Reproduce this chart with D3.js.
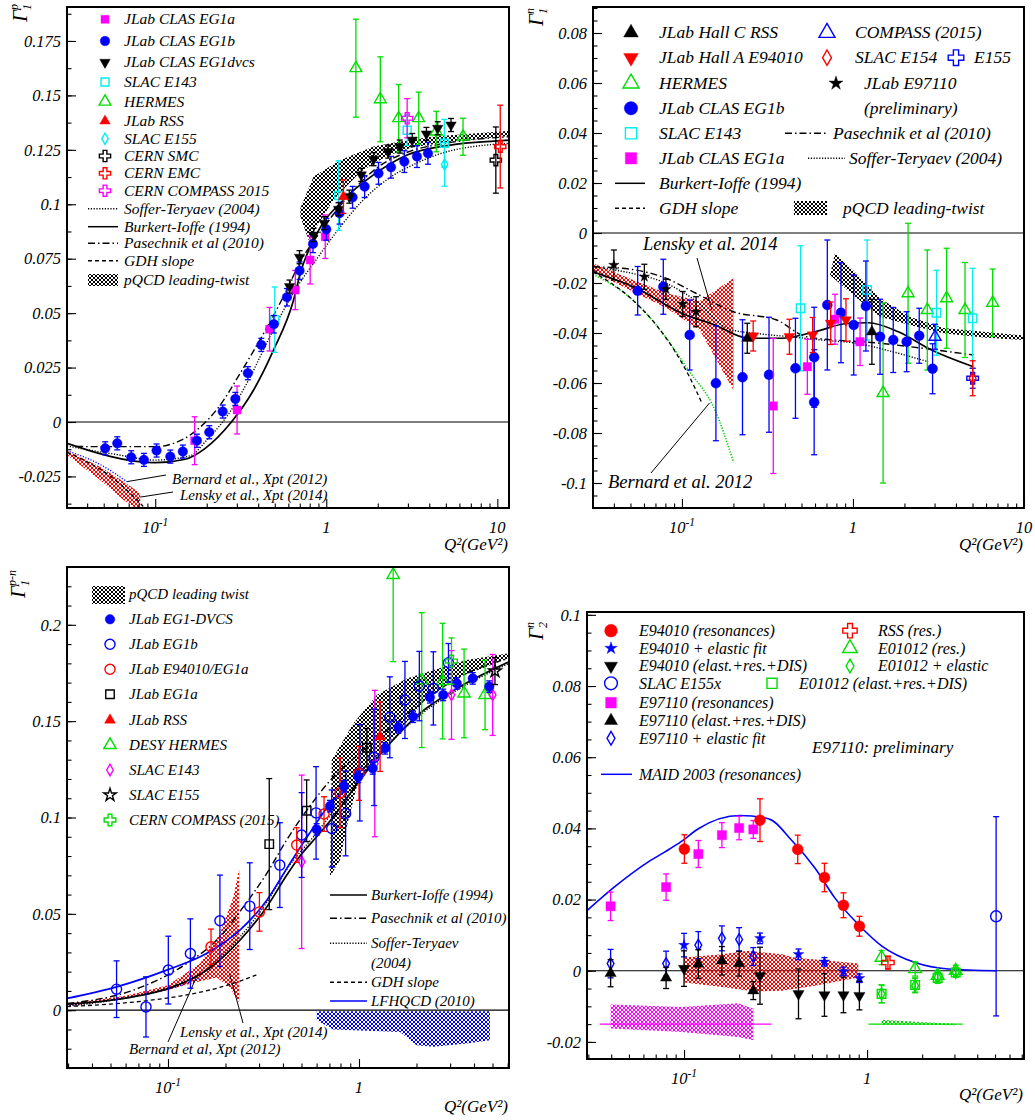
<!DOCTYPE html>
<html>
<head>
<meta charset="utf-8">
<script src="https://cdn.jsdelivr.net/npm/d3@7"></script>
<style>
  body { margin: 0; background: #fff; }
  text { font-family: "Liberation Serif", "Times New Roman", serif; font-style: italic; }
</style>
</head>
<body>
<svg id="fig" width="1035" height="1120"></svg>
<script>
const FONT = '"Liberation Serif","Times New Roman",serif';

// ---------------- panel 1 : Gamma_1 proton  [Q2, value, error] ----------------
const p1Eg1a = [[0.170,-0.0086,0.011],[0.301,0.0055,0.011],[0.466,0.0426,0.010],[0.659,0.0606,0.009],[0.805,0.0744,0.011],[0.986,0.0851,0.010]];
const p1Eg1b = [[0.051,-0.0121,0.003],[0.060,-0.0098,0.003],[0.0724,-0.0162,0.003],[0.0859,-0.0174,0.003],[0.1018,-0.0131,0.003],
  [0.1225,-0.0159,0.003],[0.145,-0.0136,0.003],[0.1753,-0.0086,0.003],[0.207,-0.0047,0.003],[0.248,0.0048,0.003],[0.294,0.0106,0.003],
  [0.348,0.0224,0.003],[0.417,0.0354,0.003],[0.494,0.0449,0.004],[0.589,0.0573,0.004],[0.698,0.0695,0.004],[0.836,0.0818,0.004],
  [1.0,0.0885,0.005],[1.196,0.0959,0.005],[1.425,0.1032,0.005],[1.676,0.1081,0.005],[2.02,0.1142,0.005],[2.39,0.117,0.005],
  [2.86,0.1196,0.005],[3.39,0.1219,0.005],[3.93,0.1234,0.005]];
const p1Eg1dvcs = [[0.61,0.0622,0.003],[0.698,0.0757,0.003],[0.843,0.0859,0.003],[0.973,0.0913,0.003],[1.18,0.0977,0.003],[1.364,0.1035,0.003],
  [1.60,0.1135,0.003],[1.89,0.1207,0.003],[2.30,0.1242,0.003],[2.69,0.1265,0.003],[3.18,0.1295,0.003],[3.85,0.1323,0.003],[4.48,0.1349,0.003],[5.36,0.1364,0.003]];
const p1E143 = [[0.50,0.047,0.015],[1.18,0.104,0.016],[2.97,0.134,0.007],[4.9,0.128,0.011]];
const p1Hermes = [[1.49,0.1625,0.0225],[2.07,0.1482,0.0195],[2.65,0.1395,0.0155],[3.47,0.1395,0.012],[4.40,0.1334,0.0093],[6.3,0.131,0.0085]];
const p1Rss = [[1.26,0.1035,0.0077]];
const p1E155 = [[4.92,0.1183,0.010]];
const p1Smc = [[9.8,0.1203,0.0152]];
const p1Emc = [[10.4,0.1265,0.019]];
const p1Compass = [[2.97,0.1395,0.009]];
const p1BurkertQ = [0.0305,0.1,0.15,0.196,0.275,0.376,0.492,0.644,0.705,0.883,1.26,1.89,2.97,5.31,10.4,11.7];
const p1BurkertG = [-0.0098,-0.0187,-0.0171,-0.0121,-0.0006,0.0147,0.0331,0.056,0.0683,0.0867,0.102,0.1135,0.1226,0.1272,0.1292,0.1295];
const p1PasechnikQ = [0.0345,0.0399,0.102,0.128,0.175,0.24,0.314,0.43,0.562,0.705,1.0,1.5,2.0,3.0,5.0,11.7];
const p1PasechnikG = [-0.0112,-0.0113,-0.0113,-0.0098,-0.0037,0.0078,0.0224,0.0407,0.0576,0.0735,0.091,0.108,0.117,0.124,0.128,0.131];
const p1SofferQ = [0.0305,0.06,0.1,0.16,0.2,0.27,0.35,0.48,0.65,0.9,1.21,1.6,2.4,3.4,5,11.7];
const p1SofferG = [-0.011,-0.015,-0.0175,-0.0155,-0.0083,0.004,0.019,0.041,0.060,0.076,0.0897,0.101,0.1127,0.119,0.124,0.128];
const p1GdhQ = [0.0305,0.04,0.05,0.06,0.07,0.08,0.085];
const p1GdhG = [-0.0139,-0.0183,-0.0228,-0.0274,-0.032,-0.0365,-0.0388];
const p1BernardQ = [0.0305,0.0476,0.0683];
const p1BernardG = [-0.0132,-0.0195,-0.0274];
const p1LenskyUpQ = [0.0305,0.0476,0.068,0.0817];
const p1LenskyUpG = [-0.0132,-0.0205,-0.0282,-0.0328];
const p1LenskyLoQ = [0.0305,0.0476,0.0653,0.0817];
const p1LenskyLoG = [-0.0152,-0.0266,-0.0358,-0.0410];
const p1PqcdUpQ = [0.705,0.843,1.21,1.89,2.71,4.25,10.4,11.7];
const p1PqcdUpG = [0.0982,0.1127,0.1203,0.1265,0.1288,0.1311,0.1334,0.1336];
const p1PqcdLoQ = [0.705,0.787,1.10,1.58,2.26,3.24,5.3,10.4,11.7];
const p1PqcdLoG = [0.0945,0.0836,0.102,0.1148,0.1222,0.1263,0.1286,0.131,0.1312];
const p1YTicks = [-0.025,0,0.025,0.05,0.075,0.1,0.125,0.15,0.175];
const p1YLabels = ["-0.025","0","0.025","0.05","0.075","0.1","0.125","0.15","0.175"];

// ---------------- panel 2 : Gamma_1 neutron ----------------
const p2Rss = [[0.241,-0.0421,0.006],[1.29,-0.0395,0.013]];
const p2E94010 = [[0.261,-0.0412,0.006],[0.425,-0.0415,0.007],[0.581,-0.0408,0.007],[0.741,-0.0361,0.0085],[0.91,-0.0348,0.0085]];
const p2Hermes = [[1.50,-0.064,0.036],[2.10,-0.0241,0.028],[2.72,-0.0308,0.024],[3.53,-0.0261,0.02],[4.52,-0.0308,0.019],[6.56,-0.0279,0.0135]];
const p2Eg1b = [[0.0551,-0.0231,0.0097],[0.0778,-0.0215,0.011],[0.111,-0.0408,0.014],[0.158,-0.0601,0.023],[0.226,-0.0577,0.023],
  [0.323,-0.0567,0.023],[0.461,-0.0541,0.02],[0.593,-0.0497,0.02],[0.593,-0.0677,0.021],[0.708,-0.0288,0.026],[0.851,-0.0319,0.02],
  [1.01,-0.0368,0.02],[1.19,-0.0292,0.018],[1.44,-0.0415,0.015],[1.72,-0.0428,0.013],[2.06,-0.0435,0.012],[2.44,-0.0411,0.011],[2.92,-0.0543,0.01]];
const p2E143 = [[0.494,-0.0301,0.025],[1.21,-0.0228,0.02],[3.08,-0.0319,0.017],[5.01,-0.0341,0.02]];
const p2Eg1a = [[0.342,-0.0692,0.027],[0.541,-0.0535,0.011],[0.785,-0.0345,0.01],[1.10,-0.0435,0.0095]];
const p2Compass = [[3.02,-0.0415,0.005]];
const p2E154 = [[5.01,-0.0581,0.007]];
const p2E155 = [[5.01,-0.0581,0.004]];
const p2E97110 = [[0.04,-0.0128,0.006],[0.0603,-0.0175,0.005],[0.0806,-0.0225,0.004],[0.101,-0.0284,0.005],[0.121,-0.0315,0.006]];
const p2BurkertQ = [0.0302,0.0543,0.0996,0.156,0.244,0.383,0.6,0.94,1.23,1.84,2.88,5.06];
const p2BurkertG = [-0.0155,-0.0221,-0.0321,-0.0368,-0.0421,-0.0421,-0.0395,-0.0361,-0.0359,-0.0395,-0.0468,-0.0535];
const p2PasechnikQ = [0.0302,0.05,0.08,0.12,0.2,0.358,0.536,1.44,5.06];
const p2PasechnikG = [-0.0135,-0.0145,-0.018,-0.024,-0.0315,-0.0348,-0.0415,-0.0441,-0.0488];
const p2SofferQ = [0.0302,0.05,0.08,0.12,0.19,0.3,0.43,0.7,1.05,1.6,2.75];
const p2SofferG = [-0.0135,-0.016,-0.020,-0.027,-0.0385,-0.0405,-0.0415,-0.043,-0.0441,-0.047,-0.0515];
const p2GdhQ = [0.0302,0.05,0.07,0.09,0.11,0.13];
const p2GdhG = [-0.0156,-0.026,-0.0364,-0.0468,-0.0572,-0.0676];
const p2BernardQ = [0.0302,0.054,0.08,0.109,0.156,0.2];
const p2BernardG = [-0.0165,-0.028,-0.0415,-0.0548,-0.0708,-0.0915];
const p2LenskyUpQ = [0.0302,0.0519,0.0815,0.127,0.2];
const p2LenskyUpG = [-0.0121,-0.0188,-0.0241,-0.0272,-0.0181];
const p2LenskyLoQ = [0.0302,0.0519,0.0815,0.127,0.2];
const p2LenskyLoG = [-0.0155,-0.0235,-0.0301,-0.0388,-0.0628];
const p2PqcdUpQ = [0.785,1.0,1.44,2.15,3.37,5.78,10];
const p2PqcdUpG = [-0.0081,-0.0148,-0.0262,-0.0335,-0.0380,-0.0395,-0.0410];
const p2PqcdLoQ = [0.734,1.0,1.44,2.15,3.37,5.78,10];
const p2PqcdLoG = [-0.0168,-0.0248,-0.0335,-0.0368,-0.0401,-0.0418,-0.0428];
const p2YTicks = [-0.1,-0.08,-0.06,-0.04,-0.02,0,0.02,0.04,0.06,0.08];
const p2YLabels = ["-0.1","-0.08","-0.06","-0.04","-0.02","0","0.02","0.04","0.06","0.08"];

// ---------------- panel 3 : Bjorken sum p-n ----------------
const p3Dvcs = [[0.600,0.0938,0.003],[0.705,0.1059,0.003],[0.834,0.1163,0.003],[0.991,0.1211,0.003],[1.18,0.1255,0.003],[1.37,0.1359,0.003],
  [1.61,0.1468,0.003],[1.92,0.1523,0.003],[2.35,0.1624,0.003],[2.76,0.1636,0.003],[3.25,0.1696,0.003],[3.94,0.1722,0.003],[4.81,0.1679,0.003]];
const p3Eg1b = [[0.0538,0.0109,0.0147],[0.0767,0.0017,0.0156],[0.1004,0.0208,0.0176],[0.131,0.0294,0.018],[0.187,0.0464,0.0237],
  [0.268,0.054,0.0225],[0.385,0.0753,0.022],[0.501,0.0909,0.022],[0.596,0.1024,0.024],[0.72,0.0943,0.02],[0.851,0.1021,0.022],
  [1.01,0.1232,0.025],[1.20,0.1312,0.025],[1.45,0.152,0.021],[1.74,0.161,0.02],[2.07,0.1682,0.018],[2.45,0.167,0.019],[2.94,0.1803,0.01]];
const p3E94010 = [[0.168,0.0329,0.0092],[0.301,0.051,0.01],[0.472,0.0857,0.009],[0.656,0.1018,0.009],[0.796,0.1128,0.018],[1.0,0.1229,0.014]];
const p3Eg1a = [[0.339,0.0862,0.034],[0.532,0.1035,0.016],[1.10,0.1362,0.01]];
const p3Rss = [[1.29,0.1419,0.018]];
const p3Hermes = [[1.51,0.2259,0.045],[2.13,0.1713,0.035],[2.74,0.1708,0.03],[3.55,0.1644,0.023],[4.57,0.1636,0.018]];
const p3E143 = [[0.501,0.077,0.045],[1.21,0.128,0.038],[3.05,0.1636,0.023],[5.01,0.1636,0.021]];
const p3E155 = [[5.15,0.176,0.007]];
const p3Compass = [[3.05,0.1812,0.012]];
const p3BurkertQ = [0.0296,0.0658,0.1066,0.16,0.238,0.329,0.418,0.491,0.6,0.735,1.01,1.40,2.08,3.38,6.1];
const p3BurkertG = [0.0031,0.0069,0.0121,0.0208,0.0363,0.0536,0.070,0.080,0.090,0.1004,0.1194,0.1367,0.154,0.1679,0.1808];
const p3PasechnikQ = [0.0296,0.0658,0.125,0.187,0.248,0.329,0.418,0.55,0.735,1.01,1.64,2.45,3.66,6.1];
const p3PasechnikG = [0.0035,0.0104,0.0242,0.038,0.0536,0.071,0.0883,0.1056,0.1211,0.1333,0.1506,0.1644,0.1748,0.1826];
const p3SofferQ = [0.0296,0.0658,0.1066,0.16,0.238,0.329,0.418,0.6,0.8,1.01,1.4,2.08,3.38,6.1];
const p3SofferG = [0.002,0.0072,0.0125,0.0215,0.038,0.056,0.073,0.092,0.108,0.121,0.137,0.153,0.167,0.180];
const p3GdhQ = [0.0296,0.05,0.08,0.12,0.18,0.24,0.29];
const p3GdhG = [0.0019,0.0032,0.0051,0.0076,0.0114,0.0152,0.0183];
const p3LfQ = [0.0296,0.0538,0.0984,0.159,0.238,0.329,0.435,0.55,0.735,0.86];
const p3LfG = [0.0061,0.0121,0.0208,0.0294,0.0415,0.0571,0.0762,0.0917,0.109,0.114];
const p3BernardQ = [0.0296,0.06,0.1,0.147];
const p3BernardG = [0.0025,0.0065,0.011,0.0165];
const p3LenskyUpQ = [0.0296,0.06,0.1,0.147,0.187,0.22,0.236];
const p3LenskyUpG = [0.0035,0.0075,0.013,0.0242,0.0398,0.0588,0.0736];
const p3LenskyLoQ = [0.0296,0.06,0.1,0.14,0.18,0.21,0.236];
const p3LenskyLoG = [0.002,0.006,0.0105,0.0145,0.017,0.012,0.004];
const p3PqcdUpQ = [0.705,0.72,0.934,1.24,1.78,2.45,3.66,6.1];
const p3PqcdUpG = [0.0692,0.1298,0.1488,0.1636,0.1722,0.1765,0.1817,0.1852];
const p3PqcdLoQ = [0.705,0.796,0.863,0.973,1.19,1.64,2.26,3.38,6.1];
const p3PqcdLoG = [0.0692,0.0779,0.0952,0.1159,0.1298,0.1454,0.1618,0.173,0.1826];
const p3LfBandUpQ = [0.601,4.85];
const p3LfBandUpG = [-0.0006,-0.0006];
const p3LfBandLoQ = [0.601,0.733,1.64,2.0,2.45,3.66,4.85];
const p3LfBandLoG = [-0.0052,-0.010,-0.0113,-0.0182,-0.019,-0.0173,-0.0156];
const p3YTicks = [0,0.05,0.1,0.15,0.2];
const p3YLabels = ["0","0.05","0.1","0.15","0.2"];

// ---------------- panel 4 : Gamma_2 neutron ----------------
const p4E94010Res = [[0.1004,0.0342,0.004],[0.26,0.0423,0.006],[0.418,0.0341,0.004],[0.585,0.0262,0.004],[0.743,0.0184,0.0035],[0.908,0.0125,0.0028]];
const p4E94010El = [[0.1,0.0072,0.0033],[0.26,0.0091,0.0015],[0.422,0.0046,0.0015],[0.585,0.0025,0.0012],[0.743,-0.0002,0.0012],[0.908,-0.0021,0.0012]];
const p4E94010Tot = [[0.1,0.0006,0.005],[0.26,-0.0014,0.008],[0.422,-0.0065,0.007],[0.585,-0.0068,0.006],[0.743,-0.0068,0.005],[0.908,-0.007,0.004]];
const p4E155x = [[5.07,0.0153,0.028]];
const p4E97110Res = [[0.0397,0.0181,0.004],[0.0798,0.0235,0.0037],[0.1197,0.0328,0.0038],[0.161,0.0381,0.0035],[0.2,0.0401,0.0033],[0.239,0.0397,0.0025]];
const p4E97110Tot = [[0.0397,-0.0007,0.0038],[0.0798,-0.002,0.003],[0.1197,0.0019,0.004],[0.161,0.0028,0.004],[0.2,0.002,0.0035],[0.239,-0.0056,0.0025]];
const p4E97110El = [[0.0397,0.002,0.004],[0.0798,0.002,0.0035],[0.1197,0.0072,0.0038],[0.161,0.0091,0.0035],[0.2,0.0088,0.0033],[0.239,0.004,0.0025]];
const p4Rss = [[1.30,0.0023,0.0018]];
const p4E01012Res = [[1.2,0.0037,0.002],[1.83,0.0005,0.002],[2.43,-0.0014,0.0015],[3.05,0.0,0.0015]];
const p4E01012El = [[1.2,-0.0065,0.0025],[1.83,-0.0042,0.002],[2.43,-0.0019,0.0015],[3.05,-0.0005,0.0012]];
const p4E01012Tot = [[1.2,-0.0065,0.0025],[1.83,-0.004,0.002],[2.43,-0.002,0.0015],[3.05,-0.0005,0.0012]];
const p4MaidQ = [0.0295,0.042,0.0638,0.0787,0.0959,0.1197,0.202,0.289,0.388,0.52,0.668,0.896,1.2,1.83,2.78,5.07];
const p4MaidG = [0.0169,0.0237,0.0306,0.0334,0.0362,0.0399,0.0436,0.0427,0.0366,0.0288,0.0204,0.013,0.007,0.0023,0.0005,0.0];
const p4RedUpQ = [0.1,0.161,0.224,0.342,0.4,0.896];
const p4RedUpG = [0.0037,0.0046,0.0056,0.0046,0.0037,0.002];
const p4RedLoQ = [0.1,0.161,0.244,0.342,0.52,0.896];
const p4RedLoG = [-0.0033,-0.0046,-0.0058,-0.0056,-0.0042,-0.0019];
const p4MagUpQ = [0.0397,0.0971,0.198,0.239];
const p4MagUpG = [-0.0095,-0.0102,-0.0091,-0.0107];
const p4MagLoQ = [0.0397,0.0971,0.198,0.239];
const p4MagLoG = [-0.0162,-0.0172,-0.0186,-0.0195];
const p4GrnUpQ = [1.2,1.83,3.05];
const p4GrnUpG = [-0.0138,-0.0143,-0.0149];
const p4GrnLoQ = [1.2,1.83,3.05];
const p4GrnLoG = [-0.0152,-0.0152,-0.0153];
const p4MagLineQ = [0.0347,0.301];
const p4GrnLineQ = [1.016,3.33];
const p4LineG = [-0.015,-0.015];
const p4YTicks = [-0.02,0,0.02,0.04,0.06,0.08,0.1];
const p4YLabels = ["-0.02","0","0.02","0.04","0.06","0.08","0.1"];

// ------------------------------------------------------------------
const svg = d3.select("#fig");
const defs = svg.append("defs");

function hatch(id, color) {
  const p = defs.append("pattern").attr("id", id).attr("patternUnits", "userSpaceOnUse")
    .attr("width", 4).attr("height", 4);
  p.append("path").attr("d", "M0,0L4,4M4,0L0,4").attr("stroke", color).attr("stroke-width", 1);
}
hatch("hk", "#000"); hatch("hr", "#f00"); hatch("hm", "#f0f"); hatch("hb", "#00f"); hatch("hg", "#0c0");

const LS = {
  solid: null,
  dashdot: "7,3,1.5,3",
  dotted: "1.2,1.6",
  dashed: "4,3"
};

let clipN = 0;
function panel(o) {
  const x = d3.scaleLog().domain(o.xd).range([o.l, o.r]);
  const y = d3.scaleLinear().domain(o.yd).range([o.b, o.t]);
  const g = svg.append("g");
  const id = "clip" + (clipN++);
  defs.append("clipPath").attr("id", id).append("rect")
    .attr("x", o.l).attr("y", o.t).attr("width", o.r - o.l).attr("height", o.b - o.t);
  const plot = g.append("g").attr("clip-path", `url(#${id})`);
  plot.append("line").attr("x1", o.l).attr("x2", o.r).attr("y1", y(0)).attr("y2", y(0))
    .attr("stroke", "#000").attr("stroke-width", 1.2);

  const ya = g.append("g").attr("transform", `translate(${o.l},0)`)
    .call(d3.axisLeft(y).tickValues(o.yTicks).tickFormat((d, i) => o.yLabels[i]).tickSize(-9).tickPadding(6));
  ya.select(".domain").remove();
  ya.attr("font-family", FONT).attr("font-size", 16.5).attr("font-style", "italic");
  const ym = g.append("g").attr("transform", `translate(${o.l},0)`)
    .call(d3.axisLeft(y).tickValues(o.yMinor).tickFormat("").tickSize(-4.5));
  ym.select(".domain").remove();

  const all = x.ticks();
  const isDec = v => Math.abs(Math.log10(v) - Math.round(Math.log10(v))) < 1e-6;
  const xa = g.append("g").attr("transform", `translate(0,${o.b})`)
    .call(d3.axisBottom(x).tickValues(all.filter(isDec)).tickFormat("").tickSize(-9));
  xa.select(".domain").remove();
  const xm = g.append("g").attr("transform", `translate(0,${o.b})`)
    .call(d3.axisBottom(x).tickValues(all.filter(v => !isDec(v))).tickFormat("").tickSize(-4.5));
  xm.select(".domain").remove();
  g.selectAll(".tick line").attr("stroke-width", 1.1);

  o.xLabels.forEach(d => {
    const t = g.append("text").attr("x", x(d[0])).attr("y", o.b + 25)
      .attr("text-anchor", "middle").attr("font-size", 16.5).text(d[1]);
    if (d[2]) t.append("tspan").attr("dy", -7).attr("font-size", 11.5).text(d[2]);
  });
  g.append("text").attr("x", o.r - 1).attr("y", o.qy).attr("text-anchor", "end")
    .attr("font-size", 17).text("Q²(GeV²)");

  const yt = g.append("text").attr("transform", `translate(${o.tx},${o.ty}) rotate(-90)`)
    .attr("font-size", 21);
  yt.append("tspan").text("Γ");
  yt.append("tspan").attr("font-size", 12).attr("dy", 4).text(o.sub);
  yt.append("tspan").attr("font-size", 12).attr("dx", -6).attr("dy", -13).text(o.sup);

  g.append("rect").attr("x", o.l).attr("y", o.t).attr("width", o.r - o.l).attr("height", o.b - o.t)
    .attr("fill", "none").attr("stroke", "#000").attr("stroke-width", 2);
  return { x, y, g, plot };
}

function zip(q, v) { return q.map((d, i) => [d, v[i]]); }

function curve(P, q, v, color, dash, w) {
  P.plot.append("path").datum(zip(q, v))
    .attr("d", d3.line().x(d => P.x(d[0])).y(d => P.y(d[1])).curve(d3.curveMonotoneX))
    .attr("fill", "none").attr("stroke", color).attr("stroke-width", w || 1.5)
    .attr("stroke-dasharray", dash);
}

function band(P, uq, ug, lq, lg, fill) {
  const pts = zip(uq, ug).concat(zip(lq, lg).reverse());
  P.plot.append("path").datum(pts)
    .attr("d", d3.line().x(d => P.x(d[0])).y(d => P.y(d[1])).curve(d3.curveLinearClosed))
    .attr("fill", `url(#${fill})`).attr("stroke", "none");
}

const M = (sym, color, open, size, rot) => ({ sym, color, open, size, rot });

function marker(g, px, py, m) {
  g.append("path").attr("d", d3.symbol().type(m.sym).size(m.size)())
    .attr("transform", `translate(${px},${py})` + (m.rot ? ` rotate(${m.rot})` : ""))
    .attr("fill", m.open ? "none" : m.color)
    .attr("stroke", m.color).attr("stroke-width", m.open ? 1.4 : 0.4);
}

function pts(P, data, m) {
  const g = P.plot.append("g");
  data.forEach(d => {
    const px = P.x(d[0]), y1 = P.y(d[1] - d[2]), y2 = P.y(d[1] + d[2]);
    g.append("line").attr("x1", px).attr("x2", px).attr("y1", y1).attr("y2", y2)
      .attr("stroke", m.color).attr("stroke-width", 1.3);
    [y1, y2].forEach(yy => g.append("line").attr("x1", px - 3).attr("x2", px + 3)
      .attr("y1", yy).attr("y2", yy).attr("stroke", m.color).attr("stroke-width", 1.3));
  });
  data.forEach(d => marker(g, P.x(d[0]), P.y(d[1]), m));
}

function label(g, x, y, s, size, anchor) {
  return g.append("text").attr("x", x).attr("y", y + size * 0.33).attr("font-size", size)
    .attr("text-anchor", anchor || "start").text(s);
}
function legLine(g, x1, x2, y, color, dash) {
  g.append("line").attr("x1", x1).attr("x2", x2).attr("y1", y).attr("y2", y)
    .attr("stroke", color).attr("stroke-width", 1.5).attr("stroke-dasharray", dash);
}
function legBox(g, x1, x2, y1, y2, fill) {
  g.append("rect").attr("x", x1).attr("y", y1).attr("width", x2 - x1).attr("height", y2 - y1)
    .attr("fill", `url(#${fill})`);
}
function leader(g, x1, y1, x2, y2) {
  g.append("line").attr("x1", x1).attr("y1", y1).attr("x2", x2).attr("y2", y2)
    .attr("stroke", "#000").attr("stroke-width", 1);
}

const C = d3.symbolCircle, S = d3.symbolSquare, T = d3.symbolTriangle, D = d3.symbolDiamond,
  ST = d3.symbolStar, X = d3.symbolCross;
const minor = (a, b, s) => d3.range(Math.round(a / s), Math.round(b / s) + 1).map(k => +(k * s).toFixed(5));

// ======================= PANEL 1 =======================
const P1 = panel({ l: 67, r: 509, t: 7, b: 508, xd: [0.0305, 11.7], yd: [-0.0395, 0.1906],
  yTicks: p1YTicks, yLabels: p1YLabels, yMinor: minor(-0.0375, 0.1875, 0.0125),
  xLabels: [[0.1, "10", "-1"], [1, "1"], [10, "10"]], qy: 550, tx: 27, ty: 22, sub: "1", sup: "p" });
band(P1, p1PqcdUpQ, p1PqcdUpG, p1PqcdLoQ, p1PqcdLoG, "hk");
band(P1, p1LenskyUpQ, p1LenskyUpG, p1LenskyLoQ, p1LenskyLoG, "hr");
curve(P1, p1BernardQ, p1BernardG, "#00f", LS.dotted, 1.3);
curve(P1, p1GdhQ, p1GdhG, "#000", LS.dashed, 1.3);
curve(P1, p1SofferQ, p1SofferG, "#000", LS.dotted, 1.4);
curve(P1, p1PasechnikQ, p1PasechnikG, "#000", LS.dashdot, 1.4);
curve(P1, p1BurkertQ, p1BurkertG, "#000", LS.solid, 1.7);
const m1 = {
  eg1a: M(S, "#f0f", false, 64), eg1b: M(C, "#00f", false, 72), dvcs: M(T, "#000", false, 48, 180),
  e143: M(S, "#0ee", true, 64), herm: M(T, "#0d0", true, 60), rss: M(T, "#f00", false, 48),
  e155: M(D, "#0ee", true, 36), smc: M(X, "#000", true, 70), emc: M(X, "#f00", true, 70), comp: M(X, "#f0f", true, 70)
};
pts(P1, p1Hermes, m1.herm);
pts(P1, p1E143, m1.e143);
pts(P1, p1E155, m1.e155);
pts(P1, p1Compass, m1.comp);
pts(P1, p1Smc, m1.smc);
pts(P1, p1Emc, m1.emc);
pts(P1, p1Eg1a, m1.eg1a);
pts(P1, p1Eg1b, m1.eg1b);
pts(P1, p1Eg1dvcs, m1.dvcs);
pts(P1, p1Rss, m1.rss);
{
  const g = P1.g, fs = 15.5;
  const rows = [["JLab CLAS EG1a", m1.eg1a], ["JLab CLAS EG1b", m1.eg1b], ["JLab CLAS EG1dvcs", m1.dvcs],
    ["SLAC E143", m1.e143], ["HERMES", m1.herm], ["JLab RSS", m1.rss], ["SLAC E155", m1.e155],
    ["CERN SMC", m1.smc], ["CERN EMC", m1.emc], ["CERN COMPASS 2015", m1.comp]];
  const ry = [19.3, 41, 62.3, 82, 101.7, 121, 138.7, 156, 173.3, 190.7];
  rows.forEach((r, i) => { marker(g, 105, ry[i], r[1]); label(g, 124, ry[i], r[0], fs); });
  const lines = [["Soffer-Teryaev (2004)", LS.dotted, 208.7], ["Burkert-Ioffe (1994)", LS.solid, 226.7],
    ["Pasechnik et al (2010)", LS.dashdot, 243.3], ["GDH slope", LS.dashed, 260.7]];
  lines.forEach(r => { legLine(g, 88, 118, r[2], "#000", r[1]); label(g, 124, r[2], r[0], fs); });
  legBox(g, 88, 118, 274, 286, "hk"); label(g, 124, 280, "pQCD leading-twist", fs);
  label(g, 172, 479, "Bernard et al., Xpt (2012)", 15);
  label(g, 180, 495, "Lensky et al., Xpt (2014)", 15);
  leader(g, P1.x(0.0683), P1.y(-0.0274), 166, 475);
  leader(g, P1.x(0.0817), P1.y(-0.0345), 173, 492);
}

// ======================= PANEL 2 =======================
const P2 = panel({ l: 593, r: 1024, t: 7, b: 508, xd: [0.0302, 10], yd: [-0.11, 0.0904],
  yTicks: p2YTicks, yLabels: p2YLabels, yMinor: minor(-0.11, 0.09, 0.005),
  xLabels: [[0.1, "10", "-1"], [1, "1"], [10, "10"]], qy: 550, tx: 543, ty: 26, sub: "1", sup: "n" });
band(P2, p2PqcdUpQ, p2PqcdUpG, p2PqcdLoQ, p2PqcdLoG, "hk");
band(P2, p2LenskyUpQ, p2LenskyUpG, p2LenskyLoQ, p2LenskyLoG, "hr");
curve(P2, p2BernardQ, p2BernardG, "#0c0", LS.dotted, 1.6);
curve(P2, p2GdhQ, p2GdhG, "#000", LS.dashed, 1.3);
curve(P2, p2SofferQ, p2SofferG, "#000", LS.dotted, 1.4);
curve(P2, p2PasechnikQ, p2PasechnikG, "#000", LS.dashdot, 1.4);
curve(P2, p2BurkertQ, p2BurkertG, "#000", LS.solid, 1.7);
const m2 = {
  rss: M(T, "#000", false, 52), e94: M(T, "#f00", false, 52, 180), herm: M(T, "#0d0", true, 62),
  eg1b: M(C, "#00f", false, 78), e143: M(S, "#0ee", true, 70), eg1a: M(S, "#f0f", false, 72),
  comp: M(T, "#00f", true, 62), e154: M(D, "#f00", true, 38), e155: M(X, "#00f", true, 75), e971: M(ST, "#000", false, 34)
};
pts(P2, p2Hermes, m2.herm);
pts(P2, p2E143, m2.e143);
pts(P2, p2Eg1b, m2.eg1b);
pts(P2, p2Eg1a, m2.eg1a);
pts(P2, p2E94010, m2.e94);
pts(P2, p2Rss, m2.rss);
pts(P2, p2Compass, m2.comp);
pts(P2, p2E155, m2.e155);
pts(P2, p2E154, m2.e154);
pts(P2, p2E97110, m2.e971);
{
  const g = P2.g, fs = 17.5;
  const big = m => Object.assign({}, m, { size: m.size * 1.8 });
  const ry = [32.7, 57.7, 83.3, 108.3, 133.3, 158.3, 183.3, 208.3];
  const rows = [["JLab Hall C RSS", m2.rss], ["JLab Hall A E94010", m2.e94], ["HERMES", m2.herm],
    ["JLab CLAS EG1b", m2.eg1b], ["SLAC E143", m2.e143], ["JLab CLAS EG1a", m2.eg1a]];
  rows.forEach((r, i) => { marker(g, 631, ry[i], big(r[1])); label(g, 659, ry[i], r[0], fs); });
  legLine(g, 615, 645, ry[6], "#000", LS.solid); label(g, 659, ry[6], "Burkert-Ioffe (1994)", fs);
  legLine(g, 615, 645, ry[7], "#000", LS.dashed); label(g, 659, ry[7], "GDH slope", fs);
  marker(g, 827, ry[0], big(m2.comp)); label(g, 855, ry[0], "COMPASS (2015)", fs);
  marker(g, 827, ry[1], big(m2.e154)); label(g, 855, ry[1], "SLAC E154", fs);
  marker(g, 956, ry[1], big(m2.e155)); label(g, 974, ry[1], "E155", fs);
  marker(g, 836, ry[2], big(m2.e971)); label(g, 864, ry[2], "JLab E97110", fs);
  label(g, 864, ry[3], "(preliminary)", fs);
  legLine(g, 785, 827, ry[4], "#000", LS.dashdot); label(g, 833, ry[4], "Pasechnik et al (2010)", fs);
  legLine(g, 808, 845, ry[5], "#000", LS.dotted); label(g, 849, ry[5], "Soffer-Teryaev (2004)", fs);
  legBox(g, 794, 827, 201, 215, "hk"); label(g, 843, ry[7], "pQCD leading-twist", fs);
  label(g, 643, 244, "Lensky et al. 2014", 18.5);
  leader(g, 697, 258, P2.x(0.15), P2.y(-0.031));
  label(g, 608, 482, "Bernard et al. 2012", 18.5);
  leader(g, 651, 473, P2.x(0.145), P2.y(-0.068));
}

// ======================= PANEL 3 =======================
const P3 = panel({ l: 67, r: 509, t: 567, b: 1068, xd: [0.0296, 6.1], yd: [-0.030, 0.230],
  yTicks: p3YTicks, yLabels: p3YLabels, yMinor: minor(-0.03, 0.23, 0.01),
  xLabels: [[0.1, "10", "-1"], [1, "1"]], qy: 1112, tx: 25, ty: 598, sub: "1", sup: "p-n" });
band(P3, p3PqcdUpQ, p3PqcdUpG, p3PqcdLoQ, p3PqcdLoG, "hk");
band(P3, p3LenskyUpQ, p3LenskyUpG, p3LenskyLoQ, p3LenskyLoG, "hr");
band(P3, p3LfBandUpQ, p3LfBandUpG, p3LfBandLoQ, p3LfBandLoG, "hb");
curve(P3, p3BernardQ, p3BernardG, "#00f", LS.dotted, 1.3);
curve(P3, p3GdhQ, p3GdhG, "#000", LS.dashed, 1.3);
curve(P3, p3SofferQ, p3SofferG, "#000", LS.dotted, 1.4);
curve(P3, p3PasechnikQ, p3PasechnikG, "#000", LS.dashdot, 1.4);
curve(P3, p3BurkertQ, p3BurkertG, "#000", LS.solid, 1.7);
curve(P3, p3LfQ, p3LfG, "#00f", LS.solid, 1.7);
const m3 = {
  dvcs: M(C, "#00f", false, 72), eg1b: M(C, "#00f", true, 80), e94: M(C, "#f00", true, 80), eg1a: M(S, "#000", true, 72),
  rss: M(T, "#f00", false, 52), herm: M(T, "#0d0", true, 66), e143: M(D, "#f0f", true, 38), e155: M(ST, "#000", true, 50),
  comp: M(X, "#0d0", true, 75)
};
pts(P3, p3Hermes, m3.herm);
pts(P3, p3E143, m3.e143);
pts(P3, p3Eg1a, m3.eg1a);
pts(P3, p3Eg1b, m3.eg1b);
pts(P3, p3E94010, m3.e94);
pts(P3, p3Dvcs, m3.dvcs);
pts(P3, p3Rss, m3.rss);
pts(P3, p3E155, m3.e155);
pts(P3, p3Compass, m3.comp);
{
  const g = P3.g, fs = 15;
  legBox(g, 92, 125, 586, 604, "hk"); label(g, 129, 594, "pQCD leading twist", fs);
  const ry = [619.3, 644.3, 669.3, 694.3, 720, 745, 770, 795, 820];
  const rows = [["JLab EG1-DVCS", m3.dvcs], ["JLab EG1b", m3.eg1b], ["JLab E94010/EG1a", m3.e94], ["JLab EG1a", m3.eg1a],
    ["JLab RSS", m3.rss], ["DESY HERMES", m3.herm], ["SLAC E143", m3.e143], ["SLAC E155", m3.e155], ["CERN COMPASS (2015)", m3.comp]];
  rows.forEach((r, i) => { marker(g, 110, ry[i], r[1]); label(g, 129, ry[i], r[0], fs); });
  legLine(g, 330, 367, 895, "#000", LS.solid); label(g, 371, 895, "Burkert-Ioffe (1994)", fs);
  legLine(g, 330, 367, 918.3, "#000", LS.dashdot); label(g, 371, 918.3, "Pasechnik et al (2010)", fs);
  legLine(g, 330, 367, 943.3, "#000", LS.dotted); label(g, 371, 943.3, "Soffer-Teryaev", fs);
  label(g, 371, 962.7, "(2004)", fs);
  legLine(g, 330, 367, 982.3, "#000", LS.dashed); label(g, 371, 982.3, "GDH slope", fs);
  legLine(g, 330, 367, 1001, "#00f", LS.solid); label(g, 371, 1001, "LFHQCD (2010)", fs);
  label(g, 180, 1032, "Lensky et al., Xpt (2014)", 15);
  leader(g, 243, 1023, P3.x(0.21), P3.y(0.019));
  label(g, 129, 1049, "Bernard et al, Xpt (2012)", 15);
  leader(g, 168, 1042, P3.x(0.141), P3.y(0.0173));
}

// ======================= PANEL 4 =======================
const P4 = panel({ l: 587, r: 1024, t: 612, b: 1059, xd: [0.0295, 7.2], yd: [-0.0248, 0.1008],
  yTicks: p4YTicks, yLabels: p4YLabels, yMinor: minor(-0.02, 0.1, 0.005),
  xLabels: [[0.1, "10", "-1"], [1, "1"]], qy: 1100, tx: 543, ty: 640, sub: "2", sup: "n" });
band(P4, p4RedUpQ, p4RedUpG, p4RedLoQ, p4RedLoG, "hr");
band(P4, p4MagUpQ, p4MagUpG, p4MagLoQ, p4MagLoG, "hm");
band(P4, p4GrnUpQ, p4GrnUpG, p4GrnLoQ, p4GrnLoG, "hg");
curve(P4, p4MagLineQ, p4LineG, "#f0f", LS.solid, 1.3);
curve(P4, p4GrnLineQ, p4LineG, "#0d0", LS.solid, 1.3);
curve(P4, p4MaidQ, p4MaidG, "#00f", LS.solid, 1.6);
const m4 = {
  res: M(C, "#f00", false, 95), el: M(ST, "#00f", false, 36), tot: M(T, "#000", false, 55, 180), e155: M(C, "#00f", true, 95),
  r971: M(S, "#f0f", false, 85), t971: M(T, "#000", false, 55), el971: M(D, "#00f", true, 40),
  rss: M(X, "#f00", true, 85), r012: M(T, "#0d0", true, 70), el012: M(D, "#0d0", true, 40), t012: M(S, "#0d0", true, 75)
};
pts(P4, p4E01012Tot, m4.t012);
pts(P4, p4E01012El, m4.el012);
pts(P4, p4E01012Res, m4.r012);
pts(P4, p4Rss, m4.rss);
pts(P4, p4E155x, m4.e155);
pts(P4, p4E97110Res, m4.r971);
pts(P4, p4E97110El, m4.el971);
pts(P4, p4E97110Tot, m4.t971);
pts(P4, p4E94010Res, m4.res);
pts(P4, p4E94010El, m4.el);
pts(P4, p4E94010Tot, m4.tot);
{
  const g = P4.g, fs = 16;
  const big = m => Object.assign({}, m, { size: m.size * 1.35 });
  const ry = [630.7, 648.3, 666, 683.3, 702.7, 720.7, 738.3];
  const rows = [["E94010 (resonances)", m4.res], ["E94010 + elastic fit", m4.el], ["E94010 (elast.+res.+DIS)", m4.tot],
    ["SLAC E155x", m4.e155], ["E97110 (resonances)", m4.r971], ["E97110 (elast.+res.+DIS)", m4.t971], ["E97110 + elastic fit", m4.el971]];
  rows.forEach((r, i) => { marker(g, 611, ry[i], big(r[1])); label(g, 639, ry[i], r[0], fs); });
  marker(g, 850, ry[0], big(m4.rss)); label(g, 878, ry[0], "RSS (res.)", fs);
  marker(g, 850, ry[1], big(m4.r012)); label(g, 878, ry[1], "E01012 (res.)", fs);
  marker(g, 850, ry[2], big(m4.el012)); label(g, 878, ry[2], "E01012 + elastic", fs);
  marker(g, 772, ry[3], big(m4.t012)); label(g, 799, ry[3], "E01012 (elast.+res.+DIS)", fs);
  label(g, 812, 747, "E97110: preliminary", 17);
  legLine(g, 601, 632, 774.3, "#00f", LS.solid); label(g, 639, 774.3, "MAID 2003 (resonances)", fs);
}
</script>
</body>
</html>
